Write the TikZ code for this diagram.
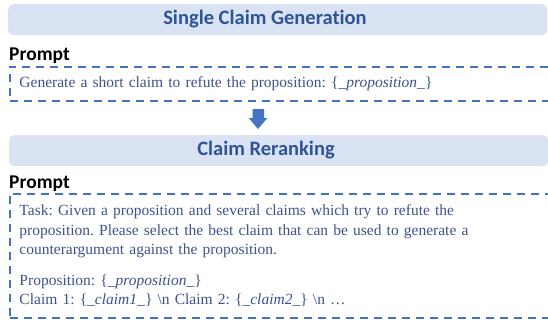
\documentclass[tikz,border=0pt]{standalone}
\usepackage{fontspec}
\setmainfont{Liberation Serif}
\newfontfamily\titlefont[Ligatures=NoCommon]{Carlito}
\usetikzlibrary{positioning}
\definecolor{hdrfill}{RGB}{218,227,243}
\definecolor{hdrtext}{RGB}{47,85,151}
\definecolor{dashblue}{RGB}{68,114,196}
\definecolor{bodytext}{RGB}{62,82,140}
\frenchspacing

\begin{document}
\begin{tikzpicture}[
  x=1pt, y=-1pt,
  header/.style={fill=hdrfill, rounded corners=5pt, minimum height=31pt,
                 minimum width=539pt, inner sep=0pt, anchor=north west},
  headtitle/.style={font=\titlefont\bfseries\fontsize{20.5}{24}\selectfont, text=hdrtext},
  promptlbl/.style={font=\titlefont\bfseries\fontsize{19.5}{23}\selectfont,
                    anchor=base west, inner sep=0pt},
  promptbox/.style={draw=dashblue, line width=2pt, dash pattern=on 8pt off 6pt,
                    anchor=north west, minimum width=560pt, text width=540pt,
                    inner xsep=10pt, align=left, text=bodytext,
                    font=\fontsize{15.5}{19.5}\selectfont},
  blockarr/.style={fill=dashblue}]
\useasboundingbox (0,0) rectangle (548,322);
% first stage
\node[header] (genhead) at (8,4) {};
\node[headtitle] (gentitle) at (265,19.5) {Single Claim Generation};
\node[promptlbl] (genprompt) at (9,60.5) {Prompt};
\node[promptbox, minimum height=34.5pt] (genbox) at (8.5,65.5)
  {Generate a short claim to refute the proposition: \{\textit{\_proposition\_}\}};
% arrow between stages
\fill[blockarr] (252.7,109) -- (264,109) -- (264,118) -- (267.3,118) -- (258,129)
  -- (248.7,118) -- (252.7,118) -- cycle;
% second stage
\node[header] (rerankhead) at (9,135) {};
\node[headtitle] (reranktitle) at (266,150.5) {Claim Reranking};
\node[promptlbl] (rerankprompt) at (9,188) {Prompt};
\node[promptbox, minimum height=123.7pt] (rerankbox) at (8.5,193)
  {Task: Given a proposition and several claims which try to refute the\\
   proposition. Please select the best claim that can be used to generate a\\
   counterargument against the proposition.\\[11pt]
   Proposition: \{\textit{\_proposition\_}\}\\
   Claim 1: \{\textit{\_claim1\_}\} \textbackslash n Claim 2: \{\textit{\_claim2\_}\} \textbackslash n \dots};
\end{tikzpicture}
\end{document}
